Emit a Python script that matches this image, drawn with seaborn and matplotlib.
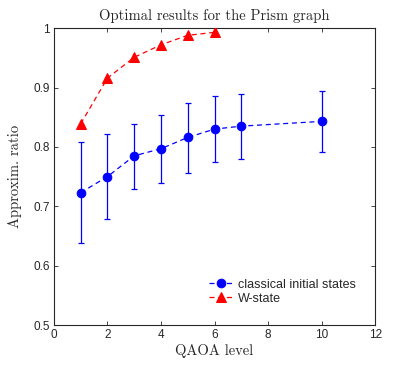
import matplotlib
matplotlib.use("Agg")
import matplotlib.pyplot as plt
import seaborn as sns
import pandas as pd

levels_classical = [1, 2, 3, 4, 5, 6, 7, 10]
ratio_classical = [0.723, 0.750, 0.785, 0.797, 0.816, 0.830, 0.835, 0.843]
err_low = [0.638, 0.678, 0.729, 0.740, 0.756, 0.774, 0.780, 0.791]
err_high = [0.809, 0.821, 0.839, 0.854, 0.874, 0.886, 0.889, 0.895]

levels_w = [1, 2, 3, 4, 5, 6]
ratio_w = [0.839, 0.916, 0.951, 0.972, 0.988, 0.993]

sns.set_style("white")
plt.rcParams['font.family'] = ['Liberation Sans', 'DejaVu Sans']

fig = plt.figure(figsize=(4.15, 3.66), dpi=100)
ax = fig.add_axes([0.130, 0.112, 0.774, 0.811])

df_c = pd.DataFrame({"level": levels_classical, "ratio": ratio_classical})
df_w = pd.DataFrame({"level": levels_w, "ratio": ratio_w})

yerr = [[r - l for r, l in zip(ratio_classical, err_low)],
        [h - r for r, h in zip(ratio_classical, err_high)]]
ax.errorbar(levels_classical, ratio_classical, yerr=yerr, fmt='none',
            ecolor='blue', elinewidth=0.9, capsize=2.5, capthick=0.9, zorder=2)

sns.lineplot(data=df_c, x="level", y="ratio", ax=ax, color='blue',
             linestyle=(0, (4, 3)), linewidth=0.9, marker='o', markersize=6.2,
             markeredgecolor='blue', markerfacecolor='blue',
             label='classical initial states', zorder=3)
sns.lineplot(data=df_w, x="level", y="ratio", ax=ax, color='red',
             linestyle=(0, (4, 3)), linewidth=0.9, marker='^', markersize=6.5,
             markeredgecolor='red', markerfacecolor='red',
             label='W-state', zorder=3)

ax.set_xlim(0, 12)
ax.set_ylim(0.5, 1.0)
ax.set_xticks([0, 2, 4, 6, 8, 10, 12])
ax.set_yticks([0.5, 0.6, 0.7, 0.8, 0.9, 1.0])
ax.set_yticklabels(['0.5', '0.6', '0.7', '0.8', '0.9', '1'])
ax.tick_params(direction='in', top=True, right=True, length=3, width=0.6,
               labelsize=8.5, colors='#262626', pad=3, bottom=True, left=True)
for s in ax.spines.values():
    s.set_color('#262626')
    s.set_linewidth(0.8)

serif = ['cmr10', 'DejaVu Serif']
ax.set_title('Optimal results for the Prism graph', fontfamily=serif, fontsize=10.5, pad=6)
ax.set_xlabel('QAOA level', fontfamily=serif, fontsize=10.5, labelpad=2)
ax.set_ylabel('Approxim. ratio', fontfamily=serif, fontsize=10.5, labelpad=8)

leg = ax.legend(loc='lower right', bbox_to_anchor=(0.97, 0.035), frameon=False,
                fontsize=9, handlelength=1.9, handletextpad=0.4, labelspacing=0.15,
                borderpad=0.3)

fig.savefig("out.png", dpi=100)
